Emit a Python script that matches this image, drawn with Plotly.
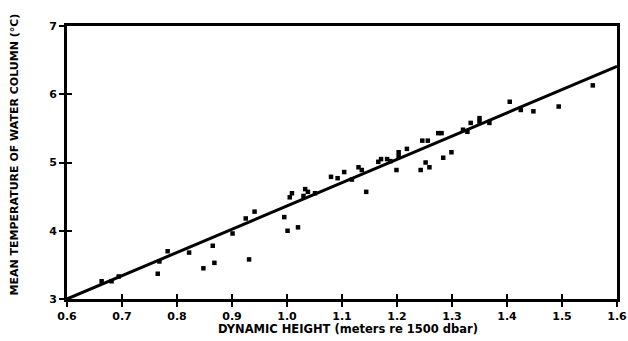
import plotly.graph_objects as go

# Station observations: dynamic height (m re 1500 dbar) vs mean column temperature (°C)
dyn_height = [
    0.663, 0.681, 0.694, 0.765, 0.768, 0.783, 0.822, 0.848, 0.865, 0.868,
    0.901, 0.925, 0.931, 0.941, 0.995, 1.001, 1.020, 1.005, 1.009, 1.030,
    1.033, 1.038, 1.051, 1.080, 1.092, 1.104, 1.118, 1.130, 1.136, 1.144,
    1.166, 1.171, 1.182, 1.188, 1.199, 1.203, 1.203, 1.218, 1.243, 1.246,
    1.256, 1.252, 1.259, 1.275, 1.281, 1.284, 1.299, 1.320, 1.328, 1.334,
    1.350, 1.350, 1.368, 1.405, 1.425, 1.448, 1.494, 1.556,
]
mean_temp = [
    3.26, 3.26, 3.33, 3.37, 3.55, 3.70, 3.68, 3.45, 3.78, 3.53,
    3.96, 4.18, 3.58, 4.28, 4.20, 4.00, 4.05, 4.49, 4.55, 4.51,
    4.61, 4.57, 4.55, 4.79, 4.77, 4.86, 4.75, 4.93, 4.89, 4.57,
    5.01, 5.05, 5.05, 5.02, 4.89, 5.15, 5.09, 5.20, 4.89, 5.32,
    5.32, 5.00, 4.93, 5.43, 5.43, 5.07, 5.15, 5.48, 5.45, 5.58,
    5.65, 5.60, 5.58, 5.89, 5.77, 5.75, 5.82, 6.13,
]

# Linear regression line T = a + b * H
fit_intercept = 0.954
fit_slope = 3.41
fit_x = [0.6, 1.6]

x_ticks = [0.6, 0.7, 0.8, 0.9, 1.0, 1.1, 1.2, 1.3, 1.4, 1.5, 1.6]
y_ticks = [3, 4, 5, 6, 7]

x_range = [0.6, 1.6]
y_range = [3, 7]

fit_y = [fit_intercept + fit_slope * v for v in fit_x]

FONT = "DejaVu Sans, Verdana, sans-serif"

fig = go.Figure()
fig.add_trace(go.Scatter(
    x=fit_x, y=fit_y, mode="lines",
    line=dict(color="black", width=3),
    showlegend=False, hoverinfo="skip",
))
fig.add_trace(go.Scatter(
    x=dyn_height, y=mean_temp, mode="markers",
    marker=dict(color="black", size=4.5, symbol="square"),
    showlegend=False,
))
# invisible trace on overlay axes so the inward tick marks get drawn
fig.add_trace(go.Scatter(
    x=[x_range[0]], y=[y_range[0]], xaxis="x2", yaxis="y2",
    mode="markers", marker=dict(opacity=0), showlegend=False, hoverinfo="skip",
))

axis_common = dict(
    showgrid=False, zeroline=False, automargin=False,
    ticklabeloverflow="allow",
    linecolor="black", linewidth=3, mirror=True, showline=True,
    ticks="outside", ticklen=5, tickwidth=2, tickcolor="black",
    tickfont=dict(family=FONT, size=11, color="black", weight="bold"),
)

fig.update_layout(
    width=628, height=341,
    margin=dict(l=67, r=11, t=26, b=42),
    paper_bgcolor="white", plot_bgcolor="white",
    font=dict(family=FONT, size=11, color="black"),
    xaxis=dict(
        range=x_range, tickvals=x_ticks,
        ticktext=[f"{v:.1f}" for v in x_ticks],
        **axis_common,
    ),
    yaxis=dict(
        range=y_range, tickvals=y_ticks,
        ticktext=[str(v) for v in y_ticks],
        **axis_common,
    ),
    xaxis2=dict(
        overlaying="x", range=x_range, tickvals=x_ticks, showticklabels=False,
        ticks="inside", ticklen=5, tickwidth=2, tickcolor="black",
        showgrid=False, zeroline=False, showline=False, side="bottom",
    ),
    yaxis2=dict(
        overlaying="y", range=y_range, tickvals=y_ticks, showticklabels=False,
        ticks="inside", ticklen=5, tickwidth=2, tickcolor="black",
        showgrid=False, zeroline=False, showline=False, side="left",
    ),
    annotations=[
        dict(
            text="DYNAMIC HEIGHT (meters re 1500 dbar)",
            xref="paper", yref="paper", x=0.51, y=-0.11,
            xanchor="center", yanchor="middle", showarrow=False,
            font=dict(family=FONT, size=11.5, color="black", weight="bold"),
        ),
        dict(
            text="MEAN TEMPERATURE OF WATER COLUMN (°C)",
            xref="paper", yref="paper", x=-0.096, y=0.53,
            xanchor="center", yanchor="middle", showarrow=False, textangle=-90,
            font=dict(family=FONT, size=11, color="black", weight="bold"),
        ),
    ],
)

fig.write_html("out.html")
